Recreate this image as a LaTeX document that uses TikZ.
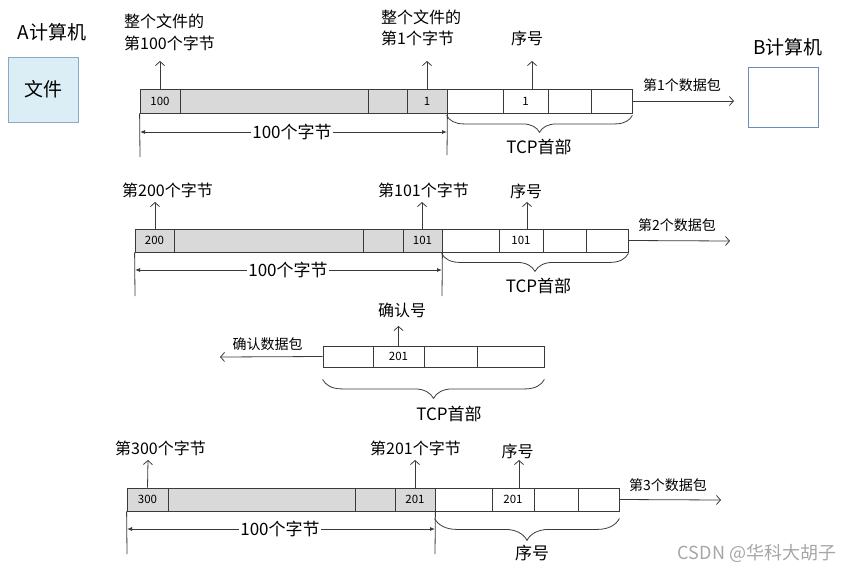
\documentclass[tikz,border=0pt]{standalone}
\usepackage{fontspec}
\setmainfont{Noto Sans CJK SC}
\usetikzlibrary{arrows.meta,decorations.pathreplacing}
\definecolor{linec}{HTML}{3A3A3A}
\definecolor{cellgray}{HTML}{D9D9D9}
\definecolor{filef}{HTML}{DCEEF5}
\definecolor{fileb}{HTML}{8AA9C9}
\definecolor{bboxc}{HTML}{6A8CC0}
\begin{document}
\begin{tikzpicture}[x=1pt,y=-1pt,
  cell/.style={draw=linec, line width=0.8pt, inner sep=0pt, minimum height=23pt, font=\fontsize{11.5}{13}\selectfont},
  gcell/.style={cell, fill=cellgray},
  lab/.style={font=\fontsize{16}{21}\selectfont, inner sep=1pt},
  plab/.style={font=\fontsize{14}{16}\selectfont, inner sep=1pt},
  big/.style={font=\fontsize{17}{20}\selectfont, inner sep=1pt},
  up/.style={draw=linec, line width=0.8pt, -{Straight Barb[length=4pt,width=9pt]}},
  dim/.style={draw=linec, line width=0.8pt, {Latex[length=5pt,width=4pt]}-{Latex[length=5pt,width=4pt]}},
  tick/.style={draw=linec, line width=0.8pt},
  brc/.style={draw=linec, line width=0.8pt, decorate, decoration={brace, mirror, amplitude=#1}}
]
\useasboundingbox (0,0) rectangle (857,573);

% ---------- computers ----------
\node[font=\fontsize{19}{22}\selectfont, inner sep=0pt] (A) at (52,32) {A计算机};
\node[draw=fileb, fill=filef, line width=0.8pt, minimum width=70pt, minimum height=65pt, font=\fontsize{19}{22}\selectfont] (file) at (43,89.5) {文件};
\node[font=\fontsize{19}{22}\selectfont, inner sep=0pt] (B) at (788,47) {B计算机};
\node[draw=bboxc, line width=0.8pt, minimum width=70pt, minimum height=60pt] (Bbox) at (783,97) {};

% ---------- row 1 ----------
\node[gcell, minimum width=40pt, minimum height=24pt] (r1a) at (160,101) {100};
\node[gcell, minimum width=188pt, minimum height=24pt] (r1b) at (274,101) {};
\node[gcell, minimum width=39pt, minimum height=24pt] (r1c) at (387.5,101) {};
\node[gcell, minimum width=40pt, minimum height=24pt] (r1d) at (427,101) {1};
\node[cell, minimum width=56pt, minimum height=24pt] (r1e) at (475,101) {};
\node[cell, minimum width=45pt, minimum height=24pt] (r1f) at (525.5,101) {1};
\node[cell, minimum width=43pt, minimum height=24pt] (r1g) at (569.5,101) {};
\node[cell, minimum width=41pt, minimum height=24pt] (r1h) at (611.5,101) {};

\coordinate (u1a) at (160,61);
\draw[up] (r1a.north) -- (u1a);
\node[lab, align=left, anchor=west, font=\fontsize{16}{22}\selectfont] (t1a) at (123,32.5) {整个文件的\\第100个字节};
\coordinate (u1d) at (427,61);
\draw[up] (r1d.north) -- (u1d);
\node[lab, align=left, anchor=west] (t1d) at (380,28) {整个文件的\\第1个字节};
\coordinate (b1f) at (532,89);
\coordinate (u1f) at (532,61);
\draw[up] (b1f) -- (u1f);
\node[lab] (s1) at (527,38) {序号};

\coordinate (p1) at (734,101);
\draw[up] (r1h.east) -- (p1);
\node[plab] (pl1) at (682,85) {第1个数据包};

\coordinate (v1l) at (140,157);
\coordinate (v1r) at (447,155);
\draw[tick] (r1a.south west) -- (v1l);
\draw[tick] (r1d.south east) -- (v1r);
\coordinate (d1l) at (140,132);
\coordinate (d1r) at (447,132);
\draw[dim] (d1l) -- (d1r);
\node[big, fill=white] (w1) at (292,132) {100个字节};
\draw[brc=17pt] ([yshift=-2pt]r1e.south west) -- ([yshift=-2pt]r1h.south east);
\node[big] (h1) at (539,147) {TCP首部};

% ---------- row 2 ----------
\node[gcell, minimum width=39pt] (r2a) at (154.5,240.5) {200};
\node[gcell, minimum width=189pt] (r2b) at (268.5,240.5) {};
\node[gcell, minimum width=40pt] (r2c) at (383,240.5) {};
\node[gcell, minimum width=39pt] (r2d) at (422.5,240.5) {101};
\node[cell, minimum width=57pt] (r2e) at (470.5,240.5) {};
\node[cell, minimum width=44pt] (r2f) at (521,240.5) {101};
\node[cell, minimum width=43pt] (r2g) at (564.5,240.5) {};
\node[cell, minimum width=42pt] (r2h) at (607,240.5) {};

\coordinate (b2a) at (155,229);
\coordinate (u2a) at (155,202);
\draw[up] (b2a) -- (u2a);
\node[lab] (t2a) at (167.5,190) {第200个字节};
\coordinate (b2d) at (422,229);
\coordinate (u2d) at (422,202);
\draw[up] (b2d) -- (u2d);
\node[lab] (t2d) at (423.5,190) {第101个字节};
\coordinate (b2f) at (527,229);
\coordinate (u2f) at (527,202);
\draw[up] (b2f) -- (u2f);
\node[lab] (s2) at (526,191) {序号};

\coordinate (p2) at (730,241);
\draw[up] (r2h.east) -- (p2);
\node[plab] (pl2) at (677,225) {第2个数据包};

\coordinate (v2l) at (135,296);
\coordinate (v2r) at (442,296);
\draw[tick] (r2a.south west) -- (v2l);
\draw[tick] (r2d.south east) -- (v2r);
\coordinate (d2l) at (135,270);
\coordinate (d2r) at (442,270);
\draw[dim] (d2l) -- (d2r);
\node[big, fill=white] (w2) at (288,270) {100个字节};
\draw[brc=18pt] ([yshift=-1pt]r2e.south west) -- ([yshift=-1pt]r2h.south east);
\node[big] (h2) at (538.5,286) {TCP首部};

% ---------- row 3 (ack) ----------
\node[cell, minimum width=50pt, minimum height=21pt] (k3a) at (348,356.5) {};
\node[cell, minimum width=51pt, minimum height=21pt] (k3b) at (398.5,356.5) {201};
\node[cell, minimum width=53pt, minimum height=21pt] (k3c) at (450.5,356.5) {};
\node[cell, minimum width=67pt, minimum height=21pt] (k3d) at (510.5,356.5) {};

\coordinate (u3b) at (398.5,326);
\draw[up] (k3b.north) -- (u3b);
\node[lab] (s3) at (402,310) {确认号};
\coordinate (p3) at (220,357);
\draw[up] (k3a.west) -- (p3);
\node[plab] (pl3) at (267.5,344) {确认数据包};
\draw[brc=19pt] ([yshift=-12pt]k3a.south west) -- ([yshift=-12pt]k3d.south east);
\node[big] (h3) at (449,414) {TCP首部};

% ---------- row 4 ----------
\node[gcell, minimum width=41pt] (r4a) at (147.5,499.5) {300};
\node[gcell, minimum width=187pt] (r4b) at (261.5,499.5) {};
\node[gcell, minimum width=40pt] (r4c) at (375,499.5) {};
\node[gcell, minimum width=40pt] (r4d) at (415,499.5) {201};
\node[cell, minimum width=57pt] (r4e) at (463.5,499.5) {};
\node[cell, minimum width=42pt] (r4f) at (513,499.5) {201};
\node[cell, minimum width=44pt] (r4g) at (556,499.5) {};
\node[cell, minimum width=41pt] (r4h) at (598.5,499.5) {};

\coordinate (u4a) at (148,460);
\draw[up] (r4a.north) -- (u4a);
\node[lab] (t4a) at (160.5,448.5) {第300个字节};
\coordinate (u4d) at (415,460);
\draw[up] (r4d.north) -- (u4d);
\node[lab] (t4d) at (415.5,448.5) {第201个字节};
\coordinate (b4f) at (519,488);
\coordinate (u4f) at (519,460);
\draw[up] (b4f) -- (u4f);
\node[lab] (s4) at (517.5,451.5) {序号};

\coordinate (p4) at (721,500);
\draw[up] (r4h.east) -- (p4);
\node[plab] (pl4) at (668,485) {第3个数据包};

\coordinate (v4l) at (127,554);
\coordinate (v4r) at (435,554);
\draw[tick] (r4a.south west) -- (v4l);
\draw[tick] (r4d.south east) -- (v4r);
\coordinate (d4l) at (127,529);
\coordinate (d4r) at (435,529);
\draw[dim] (d4l) -- (d4r);
\node[big, fill=white] (w4) at (280,529) {100个字节};
\draw[brc=22pt] ([yshift=-7pt]r4e.south west) -- ([yshift=-7pt]r4h.south east);
\node[big] (h4) at (532,553) {序号};

\node[font=\fontsize{18}{20}\selectfont, text=black!35, inner sep=0pt] (wm) at (757,553.5) {CSDN @华科大胡子};
\end{tikzpicture}
\end{document}
